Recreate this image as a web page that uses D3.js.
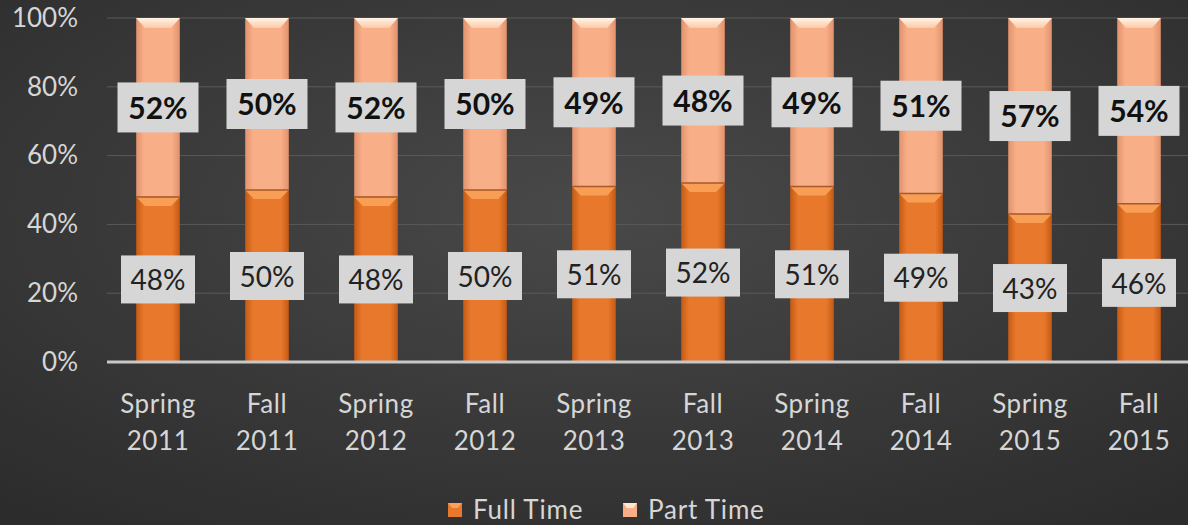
<!DOCTYPE html>
<html>
<head>
<meta charset="utf-8">
<script src="https://cdn.jsdelivr.net/npm/d3@7"></script>
<style>
  body { margin: 0; background: #3a3a3a; }
  svg { display: block; font-family: Lato, "Open Sans", sans-serif; }
</style>
</head>
<body>
<svg width="1188" height="525"></svg>
<script>
var terms = ["Spring 2011", "Fall 2011", "Spring 2012", "Fall 2012", "Spring 2013",
             "Fall 2013", "Spring 2014", "Fall 2014", "Spring 2015", "Fall 2015"];
var fullTime = [48, 50, 48, 50, 51, 52, 51, 49, 43, 46];
var partTime = [52, 50, 52, 50, 49, 48, 49, 51, 57, 54];
var yTicks = [0, 0.2, 0.4, 0.6, 0.8, 1];
var seriesNames = ["Full Time", "Part Time"];

var svg = d3.select("svg"),
    width = +svg.attr("width"),
    height = +svg.attr("height");

var defs = svg.append("defs");

// background
var bg = defs.append("radialGradient").attr("id", "bg")
    .attr("cx", "50%").attr("cy", "40%").attr("r", "75%");
bg.append("stop").attr("offset", "0%").attr("stop-color", "#494949");
bg.append("stop").attr("offset", "100%").attr("stop-color", "#2c2c2c");
svg.append("rect").attr("width", width).attr("height", height).attr("fill", "url(#bg)");

function barGrad(id, edge, mid) {
  var g = defs.append("linearGradient").attr("id", id)
      .attr("x1", "0%").attr("x2", "100%").attr("y1", "0%").attr("y2", "0%");
  g.append("stop").attr("offset", "0%").attr("stop-color", edge);
  g.append("stop").attr("offset", "18%").attr("stop-color", mid);
  g.append("stop").attr("offset", "82%").attr("stop-color", mid);
  g.append("stop").attr("offset", "100%").attr("stop-color", edge);
}
barGrad("fullGrad", "#c55a14", "#e8792c");
barGrad("partGrad", "#e0926c", "#f8ae87");

var bev = defs.append("linearGradient").attr("id", "bevPart")
    .attr("x1", "0").attr("x2", "0").attr("y1", "0").attr("y2", "1");
bev.append("stop").attr("offset", "0%").attr("stop-color", "#fff4e8");
bev.append("stop").attr("offset", "100%").attr("stop-color", "#fbc9a6");

var x = d3.scaleBand().domain(terms)
    .range([103.5, 1193.5]).paddingInner(0.6).paddingOuter(0.3);
var y = d3.scaleLinear().domain([0, 1]).range([362, 18]);

// gridlines
svg.append("g").selectAll("line")
    .data(yTicks.filter(function(d) { return d > 0; }))
    .enter().append("line")
    .attr("x1", 107).attr("x2", width)
    .attr("y1", function(d) { return y(d); }).attr("y2", function(d) { return y(d); })
    .attr("stroke", "#5a5a5a").attr("stroke-width", 1);

// y axis
var yAxis = svg.append("g").attr("transform", "translate(78,0)")
    .call(d3.axisLeft(y).tickValues(yTicks).tickFormat(d3.format(".0%")).tickSize(0).tickPadding(0));
yAxis.select(".domain").remove();
yAxis.selectAll("text").attr("fill", "#d6d6d6").attr("font-size", 26)
    .attr("font-family", "Lato, sans-serif");

var rows = terms.map(function(t, i) {
  return { term: t, full: fullTime[i] / 100, part: partTime[i] / 100 };
});

var bars = svg.append("g").selectAll("g").data(rows).enter().append("g")
    .attr("transform", function(d) { return "translate(" + x(d.term) + ",0)"; });
var bw = x.bandwidth();

// part time segment on top
bars.append("rect")
    .attr("x", 0).attr("width", bw)
    .attr("y", y(1))
    .attr("height", function(d) { return y(d.full) - y(1); })
    .attr("fill", "url(#partGrad)");
// full time segment
bars.append("rect")
    .attr("x", 0).attr("width", bw)
    .attr("y", function(d) { return y(d.full); })
    .attr("height", function(d) { return y(0) - y(d.full); })
    .attr("fill", "url(#fullGrad)");

// bevel highlights on top of each segment
function bevel(top, h) {
  return "M0," + top + "L" + bw + "," + top + "L" + (bw * 0.8) + "," + (top + h) +
         "L" + (bw * 0.2) + "," + (top + h) + "Z";
}
bars.append("path")
    .attr("d", function() { return bevel(y(1), 10); })
    .attr("fill", "url(#bevPart)");
bars.append("path")
    .attr("d", function(d) { return bevel(y(d.full), 9); })
    .attr("fill", "#f9a35a").attr("opacity", 0.9);
bars.append("line")
    .attr("x1", 0).attr("x2", bw)
    .attr("y1", function(d) { return y(d.full); }).attr("y2", function(d) { return y(d.full); })
    .attr("stroke", "#a8582a").attr("stroke-width", 1.5);

// labels
function label(sel, val, mid, bold, size, boxW, boxH) {
  var g = sel.append("g")
      .attr("transform", function(d) { return "translate(" + (bw / 2) + "," + y(mid(d)) + ")"; });
  g.append("rect")
      .attr("x", -boxW / 2).attr("y", -boxH / 2).attr("width", boxW).attr("height", boxH)
      .attr("fill", "#d6d6d6");
  g.append("text")
      .attr("text-anchor", "middle").attr("dy", "0.38em")
      .attr("font-size", size).attr("font-weight", bold ? "bold" : "normal")
      .attr("fill", bold ? "#111" : "#222")
      .text(function(d) { return Math.round(val(d) * 100) + "%"; });
}
label(bars, function(d) { return d.part; }, function(d) { return d.full + d.part / 2; }, true, 30, 81, 50);
label(bars, function(d) { return d.full; }, function(d) { return d.full / 2; }, false, 28, 74, 48);

// x labels
var xl = svg.append("g").selectAll("text").data(terms).enter().append("text")
    .attr("x", function(d) { return x(d) + bw / 2; })
    .attr("text-anchor", "middle").attr("fill", "#d6d6d6").attr("font-size", 26)
    .attr("letter-spacing", 0.6);
xl.append("tspan").attr("x", function(d) { return x(d) + bw / 2; }).attr("y", 413)
    .text(function(d) { return d.split(" ")[0]; });
xl.append("tspan").attr("x", function(d) { return x(d) + bw / 2; }).attr("y", 450)
    .text(function(d) { return d.split(" ")[1]; });

// baseline
svg.append("line").attr("x1", 107).attr("x2", width)
    .attr("y1", y(0)).attr("y2", y(0))
    .attr("stroke", "#c8c8c8").attr("stroke-width", 3);

// legend
var legendX = [448, 623];
var legendColors = ["#e8792c", "#f8ae87"];
var lg = svg.append("g").selectAll("g").data(seriesNames).enter().append("g")
    .attr("transform", function(d, i) { return "translate(" + legendX[i] + ",503)"; });
lg.append("rect").attr("width", 14).attr("height", 14)
    .attr("fill", function(d, i) { return legendColors[i]; });
lg.append("path").attr("d", "M0,0L14,0L10,5L4,5Z")
    .attr("fill", function(d, i) { return i ? "#fde6d2" : "#f9a35a"; });
lg.append("text").attr("x", 25).attr("y", 7).attr("dy", "0.36em")
    .attr("fill", "#d6d6d6").attr("font-size", 26).attr("letter-spacing", 0.8)
    .text(function(d) { return d; });
</script>
</body>
</html>
